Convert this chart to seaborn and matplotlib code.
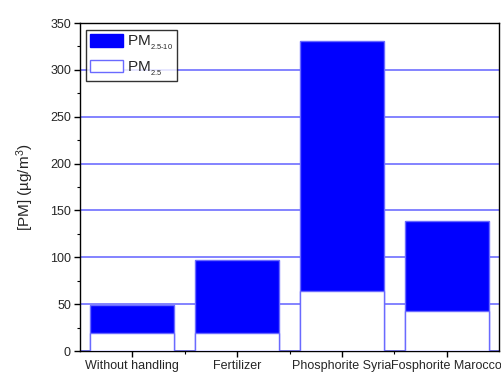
import matplotlib

matplotlib.use("Agg")
import matplotlib.pyplot as plt
import pandas as pd
import seaborn as sns
from matplotlib.patches import Patch
from matplotlib.ticker import MultipleLocator

categories = ["Without handling", "Fertilizer", "Phosphorite Syria", "Fosphorite Marocco"]
pm25 = [19, 19, 64, 43]
pm25_10 = [30, 78.5, 267, 96]

df = pd.DataFrame({"site": categories, "pm25": pm25, "coarse": pm25_10})
df["total"] = df["pm25"] + df["coarse"]

sns.set_theme(style="ticks")
plt.rcParams["font.family"] = ["Liberation Sans", "DejaVu Sans"]
plt.rcParams["mathtext.fontset"] = "custom"
plt.rcParams["mathtext.rm"] = "Liberation Sans"
plt.rcParams["mathtext.it"] = "Liberation Sans"

blue = "#0000ff"
edge = "#6a6aff"

fig = plt.figure(figsize=(5.01, 3.74), dpi=100)
ax = fig.add_axes([80 / 501, 23 / 374, 419 / 501, 328 / 374])

sns.barplot(data=df, x="site", y="total", color=blue, saturation=1, width=0.8,
            edgecolor=edge, linewidth=1, ax=ax, zorder=2)
sns.barplot(data=df, x="site", y="pm25", color="white", saturation=1, width=0.8,
            edgecolor=edge, linewidth=1, ax=ax, zorder=3)

ax.set_xlim(-0.5, 3.5)
ax.set_ylim(0, 350)
ax.yaxis.set_major_locator(MultipleLocator(50))
ax.yaxis.set_minor_locator(MultipleLocator(25))
ax.set_xticks([0.5, 1.5, 2.5], minor=True)
ax.grid(axis="y", color="#6e6eff", linewidth=1.2, zorder=0)
ax.set_axisbelow(True)

for s in ax.spines.values():
    s.set_color("black")
    s.set_linewidth(1)
ax.tick_params(axis="both", which="major", direction="out", length=4, width=1,
               labelsize=9, color="black", pad=2.5)
ax.tick_params(axis="both", which="minor", direction="out", length=2.5, width=0.8,
               color="black")
ax.tick_params(top=False, right=False, which="both")

ax.set_xlabel("")
ax.set_ylabel("[PM] (µg/m$^3$)", fontsize=11, labelpad=10)

handles = [
    Patch(facecolor=blue, edgecolor=blue),
    Patch(facecolor="white", edgecolor=edge),
]
labels = ["PM$_{{}_{\\text{2.5-10}}}$", "PM$_{{}_{\\text{2.5}}}$"]
leg = ax.legend(handles, labels, loc="upper left",
                fontsize=11, frameon=True, fancybox=False, handlelength=2.15,
                handleheight=0.85, borderpad=0.25, labelspacing=0.5,
                handletextpad=0.3, borderaxespad=0,
                bbox_to_anchor=(0.014, 0.979))
leg.get_frame().set_edgecolor("black")
leg.get_frame().set_linewidth(1)

fig.savefig("out.png", dpi=100)
